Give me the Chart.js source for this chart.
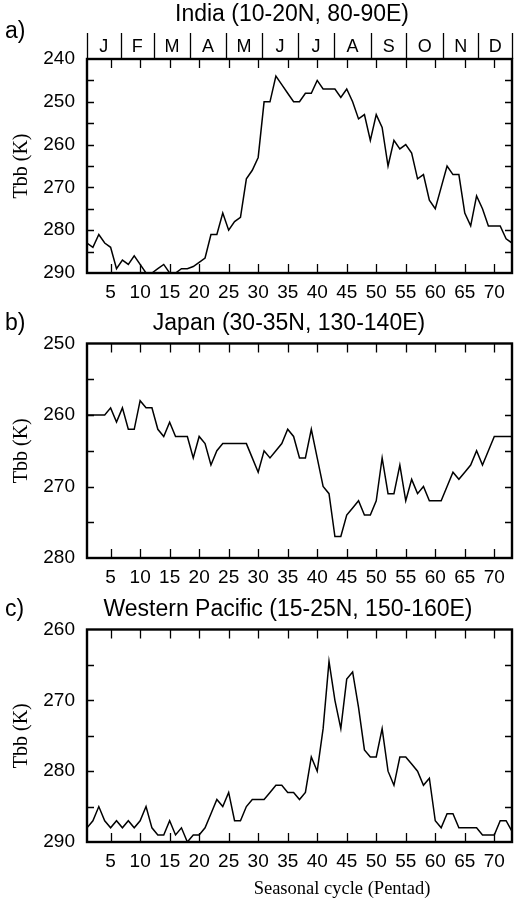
<!DOCTYPE html>
<html>
<head>
<meta charset="utf-8">
<script src="https://cdn.jsdelivr.net/npm/chart.js@4.4.0/dist/chart.umd.min.js"></script>
<style>
  html, body { margin: 0; padding: 0; background: #fff; }
  #wrap { position: relative; width: 522px; height: 905px; }
  .panel { position: absolute; left: 0; width: 522px; }
  canvas { display: block; }
</style>
</head>
<body>
<div id="wrap">
  <div class="panel" style="top:0;height:300px"><canvas id="chartA"></canvas></div>
  <div class="panel" style="top:300px;height:290px"><canvas id="chartB"></canvas></div>
  <div class="panel" style="top:590px;height:315px"><canvas id="chartC"></canvas></div>
</div>
<script>
// pentads of the year
const pentads = [1, 2, 3, 4, 5, 6, 7, 8, 9, 10, 11, 12, 13, 14, 15, 16, 17, 18, 19, 20,
  21, 22, 23, 24, 25, 26, 27, 28, 29, 30, 31, 32, 33, 34, 35, 36, 37, 38, 39, 40,
  41, 42, 43, 44, 45, 46, 47, 48, 49, 50, 51, 52, 53, 54, 55, 56, 57, 58, 59, 60,
  61, 62, 63, 64, 65, 66, 67, 68, 69, 70, 71, 72, 73];
const xTicks = [5, 10, 15, 20, 25, 30, 35, 40, 45, 50, 55, 60, 65, 70];

const months = ['J', 'F', 'M', 'A', 'M', 'J', 'J', 'A', 'S', 'O', 'N', 'D'];
const monthEdges = [1, 6.7, 12.3, 18.5, 24.5, 30.7, 36.7, 42.9, 49.1, 55.1, 61.3, 67.3, 73];

// Tbb (K) per pentad
const indiaTbb = [283, 284, 281, 283, 284, 289, 287, 288, 286, 288,
  290, 290, 289, 288, 290, 290, 289, 289, 288.5, 287.5,
  286.5, 281, 281, 276, 280, 278, 277, 268, 266, 263,
  250, 250, 244, 246, 248, 250, 250, 248, 248, 245,
  247, 247, 247, 249, 247, 250, 254, 253, 259, 253,
  256, 265, 259, 261, 260, 262, 268, 267, 273, 275,
  270, 265, 267, 267, 276, 279, 272, 275, 279, 279,
  279, 282, 283];
const japanTbb = [260, 260, 260, 260, 259, 261, 259, 262, 262, 258,
  259, 259, 262, 263, 261, 263, 263, 263, 266, 263,
  264, 267, 265, 264, 264, 264, 264, 264, 266, 268,
  265, 266, 265, 264, 262, 263, 266, 266, 262, 266,
  270, 271, 277, 277, 274, 273, 272, 274, 274, 272,
  266, 271, 271, 267, 272, 269, 271, 270, 272, 272,
  272, 270, 268, 269, 268, 267, 265, 267, 265, 263,
  263, 263, 263];
const pacificTbb = [288, 287, 285, 287, 288, 287, 288, 287, 288, 287,
  285, 288, 289, 289, 287, 289, 288, 290, 289, 289,
  288, 286, 284, 285, 283, 287, 287, 285, 284, 284,
  284, 283, 282, 282, 283, 283, 284, 283, 278, 280,
  274, 264.5, 270, 274, 267, 266, 271, 277, 278, 278,
  274, 280, 282, 278, 278, 279, 280, 282, 281, 287,
  288, 286, 286, 288, 288, 288, 288, 289, 289, 289,
  287, 287, 288.5];

const indiaYTicks = [240, 250, 260, 270, 280, 290];
const japanYTicks = [250, 260, 270, 280];
const pacificYTicks = [260, 270, 280, 290];

const sans = 'Liberation Sans, Arial, Helvetica, sans-serif';
const serif = 'Liberation Serif, Times New Roman, serif';

// frame, inward ticks, panel title, month strip, x label
const panelPlugin = {
    id: 'panelDecor',
    afterDatasetsDraw(chart, args, opts) {
        const ctx = chart.ctx;
        const a = chart.chartArea;
        const x = chart.scales.x;
        const y = chart.scales.y;
        ctx.save();
        ctx.strokeStyle = '#000';
        ctx.lineWidth = 1.3;
        ctx.beginPath();
        xTicks.forEach(v => {
            const px = Math.round(x.getPixelForValue(v)) + 0.5;
            ctx.moveTo(px, a.top); ctx.lineTo(px, a.top + 9);
            ctx.moveTo(px, a.bottom); ctx.lineTo(px, a.bottom - 9);
        });
        for (let v = y.min + 5; v < y.max; v += 5) {
            const py = Math.round(y.getPixelForValue(v)) + 0.5;
            ctx.moveTo(a.left, py); ctx.lineTo(a.left + 7, py);
            ctx.moveTo(a.right, py); ctx.lineTo(a.right - 7, py);
        }
        ctx.stroke();

        ctx.lineWidth = 2.4;
        ctx.strokeRect(a.left, a.top, a.right - a.left, a.bottom - a.top);

        ctx.fillStyle = '#000';
        ctx.textBaseline = 'alphabetic';
        ctx.font = '23px ' + sans;
        ctx.textAlign = 'center';
        ctx.fillText(opts.title, opts.titleX, opts.titleY);
        ctx.textAlign = 'left';
        ctx.fillText(opts.letter, 5, opts.letterY);

        if (opts.xTitle) {
            ctx.font = '18.5px ' + serif;
            ctx.textAlign = 'center';
            ctx.fillText(opts.xTitle, 342, a.bottom + 52);
        }

        if (opts.months) {
            ctx.lineWidth = 1.3;
            ctx.beginPath();
            monthEdges.forEach(v => {
                const px = Math.round(x.getPixelForValue(v)) + 0.5;
                ctx.moveTo(px, a.top - 26); ctx.lineTo(px, a.top);
            });
            ctx.stroke();
            ctx.font = '18px ' + sans;
            ctx.textAlign = 'center';
            ctx.textBaseline = 'middle';
            months.forEach((m, i) => {
                const px = (x.getPixelForValue(monthEdges[i]) + x.getPixelForValue(monthEdges[i + 1])) / 2;
                ctx.fillText(m, px, a.top - 12);
            });
        }
        ctx.restore();
    }
};

function makePanel(id, values, yTicks, opt) {
    const points = pentads.map((p, i) => ({ x: p, y: values[i] }));
    return new Chart(document.getElementById(id), {
        type: 'line',
        data: {
            datasets: [{
                data: points,
                borderColor: '#000',
                borderWidth: 1.5,
                pointRadius: 0,
                tension: 0,
                fill: false
            }]
        },
        options: {
            responsive: true,
            maintainAspectRatio: false,
            animation: false,
            layout: { padding: { top: opt.top, right: 10, left: 0, bottom: 0 } },
            plugins: {
                legend: { display: false },
                tooltip: { enabled: false },
                panelDecor: {
                    title: opt.title,
                    letter: opt.letter,
                    titleX: opt.titleX,
                    titleY: opt.titleY,
                    letterY: opt.letterY,
                    months: opt.months,
                    xTitle: opt.xTitle
                }
            },
            scales: {
                x: {
                    type: 'linear',
                    min: 1,
                    max: 73,
                    afterBuildTicks: s => { s.ticks = xTicks.map(v => ({ value: v })); },
                    afterFit: s => { s.height = opt.xHeight; },
                    grid: { display: false, drawTicks: false },
                    border: { display: false },
                    ticks: {
                        color: '#000',
                        font: { family: sans, size: 19 },
                        padding: 8,
                        maxRotation: 0,
                        autoSkip: false
                    }
                },
                y: {
                    reverse: true,
                    min: yTicks[0],
                    max: yTicks[yTicks.length - 1],
                    afterBuildTicks: s => { s.ticks = yTicks.map(v => ({ value: v })); },
                    afterFit: s => { s.width = 87; },
                    grid: { display: false, drawTicks: false },
                    border: { display: false },
                    ticks: {
                        color: '#000',
                        font: { family: sans, size: 19 },
                        padding: 12
                    },
                    title: {
                        display: true,
                        text: 'Tbb (K)',
                        color: '#000',
                        font: { family: serif, size: 20 },
                        padding: { top: 10, bottom: 0 }
                    }
                }
            }
        },
        plugins: [panelPlugin]
    });
}

makePanel('chartA', indiaTbb, indiaYTicks, {
    top: 59, xHeight: 27, title: 'India (10-20N, 80-90E)', letter: 'a)',
    titleX: 292, titleY: 21, letterY: 38, months: true
});
makePanel('chartB', japanTbb, japanYTicks, {
    top: 43.5, xHeight: 32, title: 'Japan (30-35N, 130-140E)', letter: 'b)',
    titleX: 289, titleY: 30, letterY: 30, months: false
});
makePanel('chartC', pacificTbb, pacificYTicks, {
    top: 39.5, xHeight: 63, title: 'Western Pacific (15-25N, 150-160E)', letter: 'c)',
    titleX: 288, titleY: 26, letterY: 26, months: false, xTitle: 'Seasonal cycle (Pentad)'
});
</script>
</body>
</html>
